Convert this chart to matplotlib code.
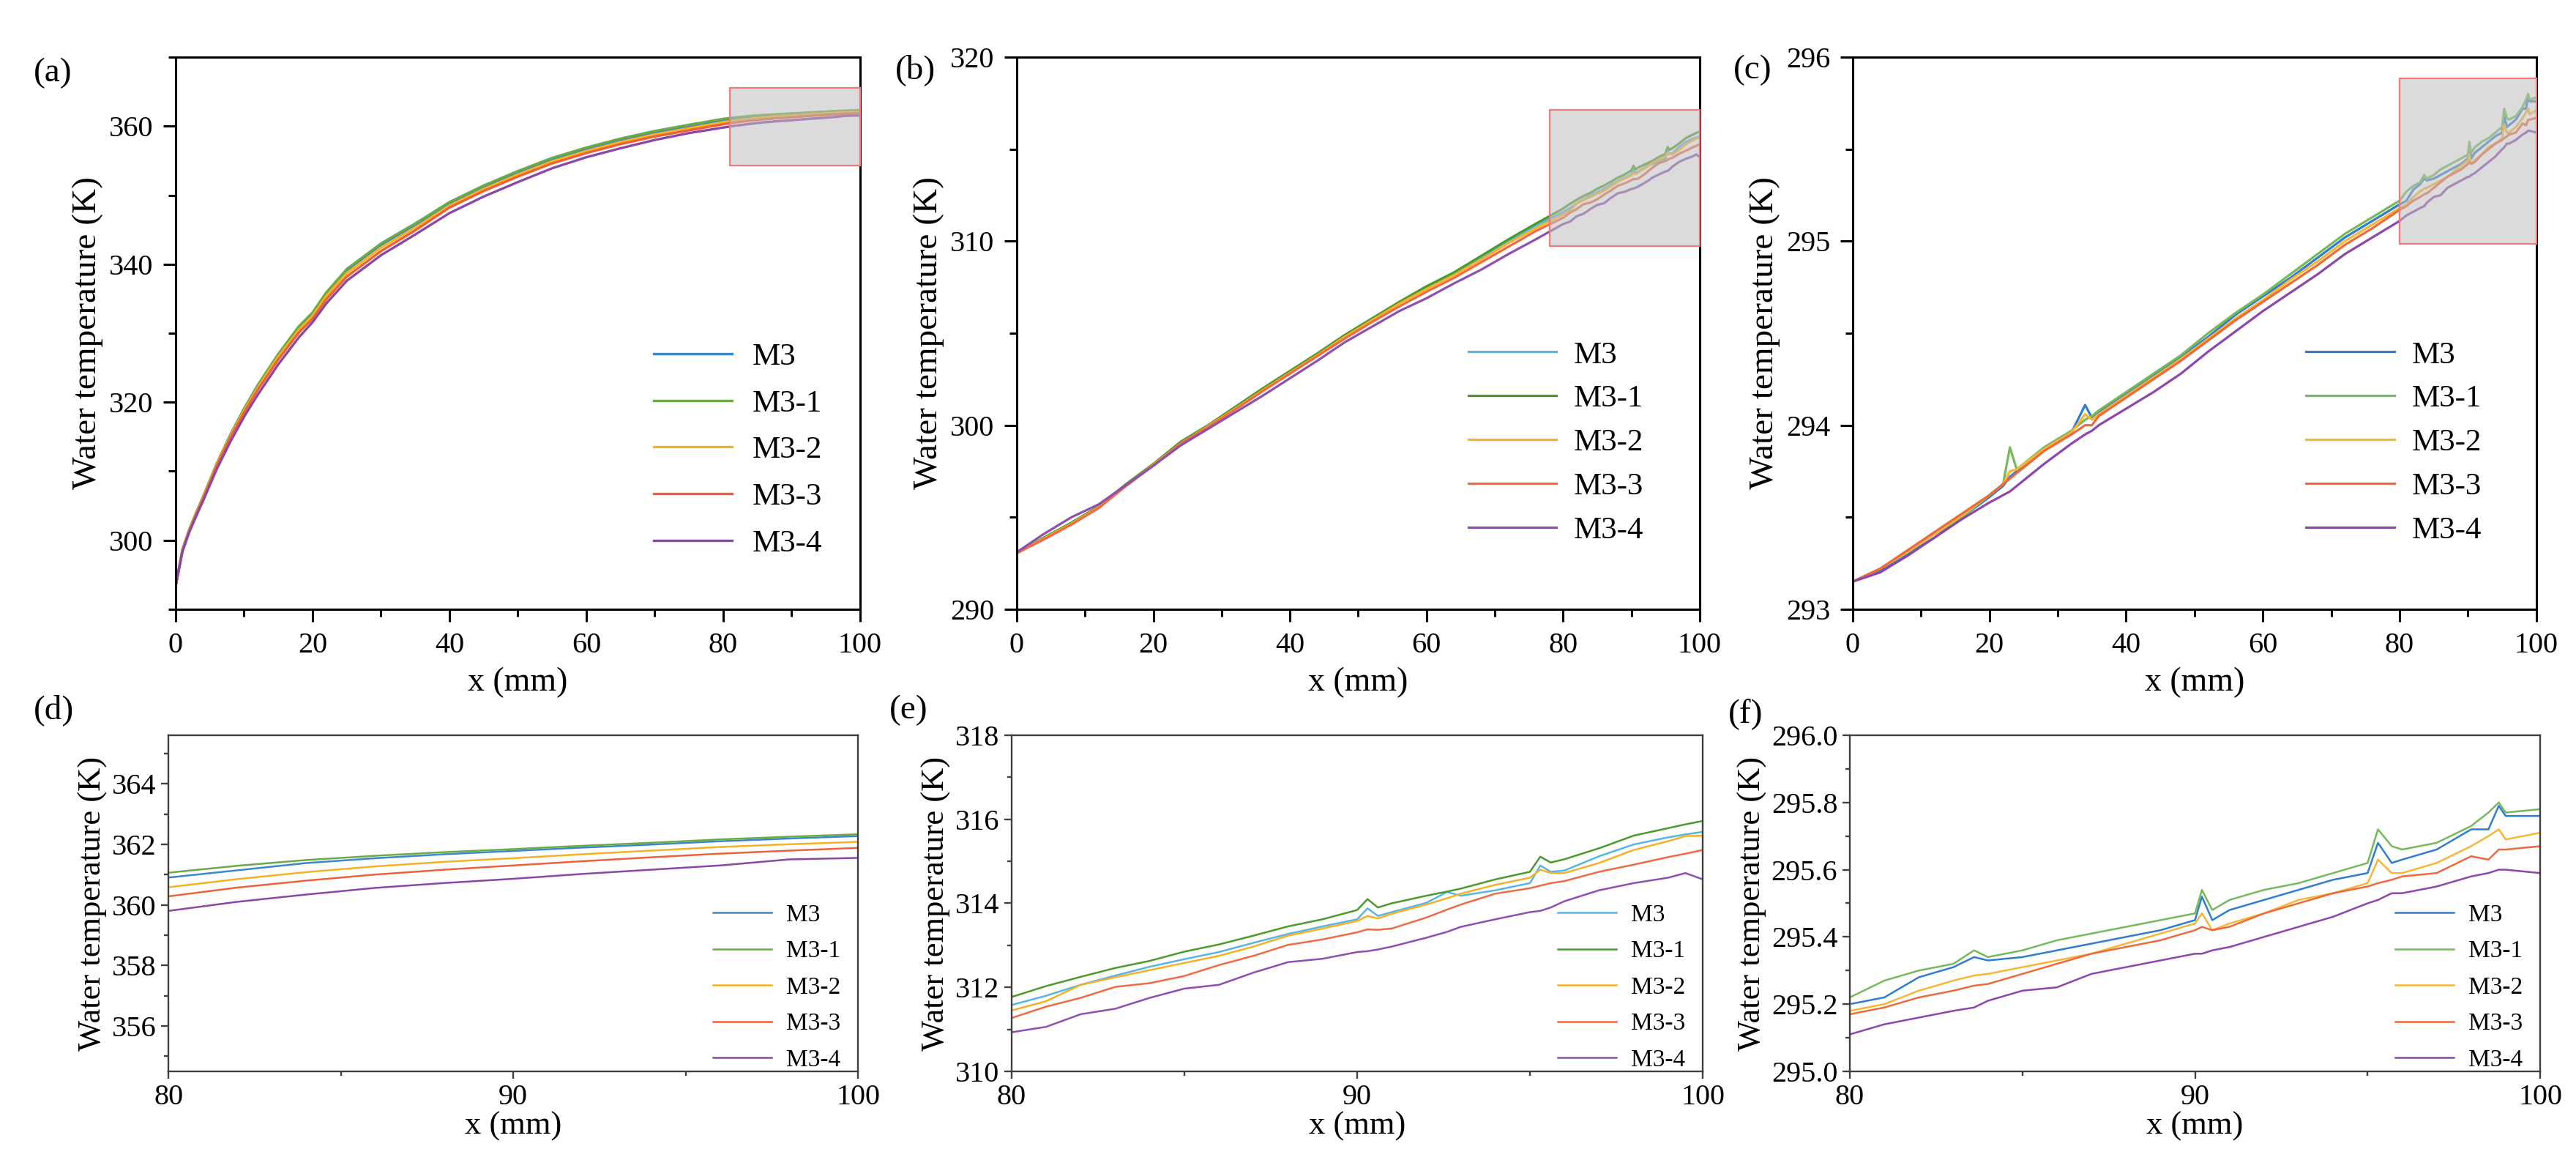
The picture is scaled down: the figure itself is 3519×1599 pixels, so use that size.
import matplotlib
matplotlib.use("Agg")
import matplotlib.pyplot as plt
from matplotlib.ticker import MultipleLocator, FormatStrFormatter
from matplotlib.patches import Rectangle

FONT = 'Liberation Serif'
plt.rcParams.update({'font.family': 'serif', 'font.serif': [FONT, 'DejaVu Serif']})

# ---------------- DATA ----------------
labels = ['M3', 'M3-1', 'M3-2', 'M3-3', 'M3-4']

# panel (a) / (d)
x_a = [0, 1, 2, 3, 4, 5, 6, 8, 10, 12, 15, 18, 20, 22, 25, 30, 35, 40, 45, 50, 55, 60,
       65, 70, 75, 80, 82, 84, 86, 88, 90, 92, 94, 96, 98, 100]
a_m3 = [293.4, 298.7, 301.6, 304.0, 306.3, 308.7, 311.1, 315.3, 319.0, 322.4, 326.9, 330.9,
        332.9, 335.8, 339.1, 342.8, 345.7, 348.8, 351.2, 353.3, 355.2, 356.7, 358.0, 359.1,
        360.0, 360.90, 361.14, 361.38, 361.54, 361.67, 361.78, 361.89, 361.99, 362.10,
        362.19, 362.27]
a_m31 = [293.4, 298.7, 301.6, 304.0, 306.3, 308.7, 311.1, 315.3, 319.1, 322.5, 327.0, 331.0,
         333.0, 335.9, 339.3, 343.0, 345.9, 349.0, 351.4, 353.5, 355.4, 356.9, 358.2, 359.3,
         360.2, 361.06, 361.29, 361.48, 361.62, 361.74, 361.84, 361.95, 362.05, 362.16,
         362.25, 362.33]
a_m32 = [293.4, 298.6, 301.5, 303.9, 306.2, 308.6, 311.0, 315.1, 318.8, 322.1, 326.6, 330.5,
         332.5, 335.4, 338.7, 342.4, 345.3, 348.5, 350.9, 353.0, 354.9, 356.4, 357.7, 358.8,
         359.7, 360.58, 360.85, 361.08, 361.27, 361.42, 361.54, 361.67, 361.79, 361.91,
         362.00, 362.08]
a_m33 = [293.4, 298.5, 301.4, 303.8, 306.0, 308.4, 310.8, 314.9, 318.5, 321.8, 326.2, 330.1,
         332.1, 334.9, 338.2, 341.9, 344.9, 348.2, 350.6, 352.7, 354.6, 356.1, 357.4, 358.5,
         359.4, 360.28, 360.57, 360.80, 361.00, 361.16, 361.30, 361.44, 361.57, 361.69,
         361.79, 361.88]
a_m34 = [293.4, 298.4, 301.2, 303.5, 305.7, 308.0, 310.3, 314.3, 317.9, 321.1, 325.5, 329.4,
         331.6, 334.3, 337.6, 341.3, 344.3, 347.4, 349.8, 351.9, 353.9, 355.5, 356.8, 358.0,
         359.0, 359.80, 360.10, 360.34, 360.56, 360.72, 360.86, 361.02, 361.16, 361.30,
         361.50, 361.55]

# panel (b) / (e)
x_b = [0, 4, 8, 12, 16, 20, 24, 28, 32, 36, 40, 44, 48, 52, 56, 60, 64, 68, 72, 76,
       80, 81, 82, 83, 84, 85, 86, 87, 88, 89, 90, 90.3, 90.6, 91, 92, 92.6, 93, 94, 95,
       95.3, 95.6, 96, 97, 98, 99, 99.5, 100]
b_m3 = [293.05, 293.85, 294.7, 295.55, 296.75, 297.85, 299.05, 299.95, 300.95, 301.95,
        302.9, 303.85, 304.85, 305.75, 306.65, 307.5, 308.25, 309.1, 310.0, 310.85,
        311.58, 311.8, 312.06, 312.28, 312.49, 312.67, 312.84, 313.06, 313.27, 313.45,
        313.62, 313.88, 313.7, 313.79, 314.01, 314.27, 314.18, 314.31, 314.48, 314.9,
        314.75, 314.78, 315.12, 315.4, 315.57, 315.64, 315.7]
b_m31 = [293.05, 293.9, 294.7, 295.6, 296.8, 297.9, 299.1, 300.0, 301.0, 302.0,
         302.95, 303.9, 304.9, 305.8, 306.7, 307.55, 308.3, 309.2, 310.1, 310.95,
         311.77, 312.03, 312.25, 312.46, 312.63, 312.85, 313.02, 313.23, 313.45, 313.62,
         313.84, 314.1, 313.9, 314.0, 314.18, 314.28, 314.35, 314.57, 314.75, 315.11,
         314.97, 315.05, 315.31, 315.61, 315.79, 315.88, 315.96]
b_m32 = [293.05, 293.85, 294.65, 295.55, 296.7, 297.85, 299.0, 299.95, 300.9, 301.9,
         302.85, 303.8, 304.8, 305.7, 306.6, 307.4, 308.15, 309.0, 309.9, 310.7,
         311.45, 311.67, 312.06, 312.24, 312.41, 312.58, 312.75, 312.97, 313.23, 313.4,
         313.58, 313.7, 313.64, 313.75, 313.97, 314.12, 314.23, 314.44, 314.61, 314.8,
         314.72, 314.72, 314.96, 315.27, 315.48, 315.6, 315.61]
b_m33 = [293.05, 293.8, 294.6, 295.5, 296.7, 297.8, 299.0, 299.9, 300.85, 301.85,
         302.8, 303.75, 304.7, 305.6, 306.45, 307.25, 308.0, 308.85, 309.7, 310.55,
         311.27, 311.54, 311.75, 312.01, 312.1, 312.27, 312.53, 312.75, 313.01, 313.14,
         313.31, 313.38, 313.37, 313.4, 313.66, 313.85, 313.97, 314.23, 314.36, 314.42,
         314.48, 314.53, 314.75, 314.92, 315.1, 315.18, 315.27]
b_m34 = [293.1, 294.1, 295.0, 295.7, 296.75, 297.8, 298.9, 299.8, 300.7, 301.6,
         302.55, 303.5, 304.5, 305.35, 306.2, 306.9, 307.7, 308.45, 309.3, 310.1,
         310.93, 311.06, 311.36, 311.49, 311.75, 311.97, 312.06, 312.35, 312.6, 312.68,
         312.84, 312.86, 312.9, 312.97, 313.18, 313.32, 313.44, 313.62, 313.79, 313.82,
         313.9, 314.05, 314.31, 314.48, 314.61, 314.72, 314.57]

# panel (c) / (f)
x_c = [0, 4, 8, 12, 16, 20, 22, 23, 24, 28, 32, 34, 35, 36, 40, 44, 48, 52, 56, 60, 64,
       68, 72, 76,
       80, 81, 82, 83, 83.6, 84, 85, 86, 87, 88, 89, 90, 90.2, 90.5, 91, 92, 93, 94, 95,
       95.3, 95.7, 96, 97, 98, 98.5, 98.8, 99, 100]
c_m3 = [293.15, 293.21, 293.3, 293.39, 293.5, 293.61, 293.67, 293.72, 293.75, 293.87,
        293.96, 294.11, 294.04, 294.07, 294.17, 294.27, 294.37, 294.48, 294.6, 294.7,
        294.8, 294.91, 295.02, 295.11,
        295.2, 295.22, 295.28, 295.31, 295.34, 295.33, 295.34, 295.36, 295.38, 295.4,
        295.42, 295.45, 295.52, 295.45, 295.48, 295.51, 295.54, 295.57, 295.59, 295.68,
        295.62, 295.63, 295.66, 295.72, 295.72, 295.79, 295.76, 295.76]
c_m31 = [293.15, 293.22, 293.31, 293.41, 293.5, 293.62, 293.68, 293.88, 293.76, 293.88,
         293.97, 294.03, 294.05, 294.08, 294.18, 294.28, 294.38, 294.5, 294.61, 294.71,
         294.82, 294.93, 295.04, 295.13,
         295.22, 295.27, 295.3, 295.32, 295.36, 295.34, 295.36, 295.39, 295.41, 295.43,
         295.45, 295.47, 295.54, 295.48, 295.51, 295.54, 295.56, 295.59, 295.62, 295.72,
         295.67, 295.66, 295.68, 295.73, 295.77, 295.8, 295.77, 295.78]
c_m32 = [293.15, 293.22, 293.31, 293.41, 293.51, 293.62, 293.68, 293.75, 293.76, 293.87,
         293.96, 294.06, 294.03, 294.06, 294.16, 294.26, 294.36, 294.47, 294.58, 294.68,
         294.79, 294.89, 295.0, 295.09,
         295.18, 295.2, 295.24, 295.27, 295.285, 295.29, 295.31, 295.33, 295.35, 295.38,
         295.41, 295.44, 295.47, 295.42, 295.44, 295.47, 295.51, 295.53, 295.56, 295.63,
         295.59, 295.59, 295.62, 295.67, 295.7, 295.72, 295.69, 295.71]
c_m33 = [293.15, 293.22, 293.32, 293.42, 293.52, 293.62, 293.68, 293.71, 293.74, 293.86,
         293.95, 294.0, 294.0, 294.05, 294.15, 294.25, 294.35, 294.46, 294.57, 294.67,
         294.77, 294.87, 294.98, 295.07,
         295.17, 295.19, 295.22, 295.24, 295.255, 295.26, 295.29, 295.32, 295.35, 295.37,
         295.39, 295.42, 295.43, 295.42, 295.43, 295.47, 295.5, 295.53, 295.55, 295.56,
         295.57, 295.58, 295.59, 295.64, 295.63, 295.66, 295.66, 295.67]
c_m34 = [293.15, 293.2, 293.29, 293.39, 293.49, 293.58, 293.62, 293.64, 293.67, 293.79,
         293.9, 293.95, 293.97, 294.0, 294.09, 294.18, 294.28, 294.4, 294.51, 294.62,
         294.72, 294.82, 294.93, 295.02,
         295.11, 295.14, 295.16, 295.18, 295.19, 295.21, 295.24, 295.25, 295.29, 295.31,
         295.33, 295.35, 295.35, 295.36, 295.37, 295.4, 295.43, 295.46, 295.5, 295.51,
         295.53, 295.53, 295.55, 295.58, 295.59, 295.6, 295.6, 295.59]

# ---------------- STYLE ----------------
colors_a = ['#3b87cc', '#6aab45', '#f5b324', '#ec6238', '#8b47a8']
colors_b = ['#56b6e3', '#4b9b2b', '#f6b026', '#ef6a45', '#8e4fb0']
colors_c = ['#2f7dcf', '#76b95c', '#f7b636', '#ec6a3c', '#8c47ad']

YLABEL = 'Water temperature (K)'
XLABEL = 'x (mm)'

fig = plt.figure(figsize=(35.19, 15.99), dpi=100)


def setup_axes(rect, xlim, ylim, xmaj, xmin, ymaj, ymin, top_row):
    ax = fig.add_axes(rect)
    ax.set_xlim(*xlim)
    ax.set_ylim(*ylim)
    ax.xaxis.set_major_locator(MultipleLocator(xmaj))
    ax.xaxis.set_minor_locator(MultipleLocator(xmin))
    ax.yaxis.set_major_locator(MultipleLocator(ymaj))
    ax.yaxis.set_minor_locator(MultipleLocator(ymin))
    if top_row:
        sp_lw, sp_col = 2.2, 'black'
        maj_len, min_len, pad, fs = 12, 7, 10, 29
        ax.set_xlabel(XLABEL, fontsize=33, labelpad=8, family=FONT)
        ax.set_ylabel(YLABEL, fontsize=34, labelpad=6, family=FONT)
    else:
        sp_lw, sp_col = 1.7, '#404040'
        maj_len, min_len, pad, fs = 7, 4, 5, 29
        ax.set_xlabel(XLABEL, fontsize=32, labelpad=1, family=FONT)
        ax.set_ylabel(YLABEL, fontsize=32, labelpad=4, family=FONT)
    for s in ax.spines.values():
        s.set_linewidth(sp_lw)
        s.set_color(sp_col)
    ax.tick_params(which='both', direction='out', width=sp_lw, color=sp_col,
                   labelsize=fs, pad=pad, top=False, right=False, labelfontfamily=FONT)
    ax.tick_params(which='major', length=maj_len)
    ax.tick_params(which='minor', length=min_len)
    return ax


def draw_lines(ax, x, series, colors, lw):
    for ys, c, lab in zip(series, colors, labels):
        ax.plot(x, ys, color=c, lw=lw, label=lab, solid_joinstyle='round')


def add_box(ax, x0, x1, y0, y1):
    ax.add_patch(Rectangle((x0, y0), x1 - x0, y1 - y0, facecolor='#bfbfbf', alpha=0.55,
                           edgecolor='none', zorder=5, clip_on=False))
    ax.add_patch(Rectangle((x0, y0), x1 - x0, y1 - y0, facecolor='none',
                           edgecolor='#f07a7a', lw=1.6, zorder=6, clip_on=False))


def add_legend(ax, anchor, size, hl, htp, ls):
    ax.legend(loc='lower right', bbox_to_anchor=anchor, frameon=False,
              prop={'family': FONT, 'size': size}, handlelength=hl,
              handletextpad=htp, labelspacing=ls, borderpad=0, borderaxespad=0)


series_a = [a_m3, a_m31, a_m32, a_m33, a_m34]
series_b = [b_m3, b_m31, b_m32, b_m33, b_m34]
series_c = [c_m3, c_m31, c_m32, c_m33, c_m34]

top_y, top_h = 0.4797, 0.4715
bot_y, bot_h = 0.0851, 0.287

# (a)
ax = setup_axes([0.0682, top_y, 0.2657, top_h], (0, 100), (290, 370), 20, 10, 20, 10, True)
draw_lines(ax, x_a, series_a, colors_a, 2.4)
add_box(ax, 81, 100, 354.3, 365.5)
add_legend(ax, (0.945, 0.093), 31, 2.5, 0.65, 0.57)

# (b)
ax = setup_axes([0.3947, top_y, 0.2651, top_h], (0, 100), (290, 320), 20, 10, 10, 5, True)
draw_lines(ax, x_b, series_b, colors_b, 2.3)
add_box(ax, 78, 100, 309.75, 317.15)
add_legend(ax, (0.918, 0.117), 31, 2.8, 0.55, 0.48)

# (c)
ax = setup_axes([0.7192, top_y, 0.2654, top_h], (0, 100), (293, 296), 20, 10, 1, 0.5, True)
draw_lines(ax, x_c, series_c, colors_c, 2.3)
add_box(ax, 80, 100, 294.985, 295.885)
add_legend(ax, (0.92, 0.117), 31, 2.8, 0.55, 0.48)

# (d)
ax = setup_axes([0.0654, bot_y, 0.2677, bot_h], (80, 100), (354.5, 365.6), 10, 5, 2, 1, False)
draw_lines(ax, x_a, series_a, colors_a, 1.8)
add_legend(ax, (0.975, 0.0), 24, 2.4, 0.6, 0.57)

# (e)
ax = setup_axes([0.3927, bot_y, 0.2683, bot_h], (80, 100), (310, 318), 10, 5, 2, 1, False)
draw_lines(ax, x_b, series_b, colors_b, 1.8)
add_legend(ax, (0.975, 0.0), 24, 2.4, 0.6, 0.57)

# (f)
ax = setup_axes([0.7181, bot_y, 0.2680, bot_h], (80, 100), (295.0, 296.0), 10, 5, 0.2, 0.1, False)
ax.yaxis.set_major_formatter(FormatStrFormatter('%.1f'))
draw_lines(ax, x_c, series_c, colors_c, 1.8)
add_legend(ax, (0.975, 0.0), 24, 2.4, 0.6, 0.57)

# panel letters
for lab, xx, yy in [('(a)', 0.013, 0.9375), ('(b)', 0.3475, 0.94), ('(c)', 0.673, 0.94),
                    ('(d)', 0.013, 0.3934), ('(e)', 0.3453, 0.3934), ('(f)', 0.671, 0.39)]:
    fig.text(xx, yy, lab, fontsize=34, ha='left', va='center', family=FONT)

fig.savefig('out.png', dpi=100)
